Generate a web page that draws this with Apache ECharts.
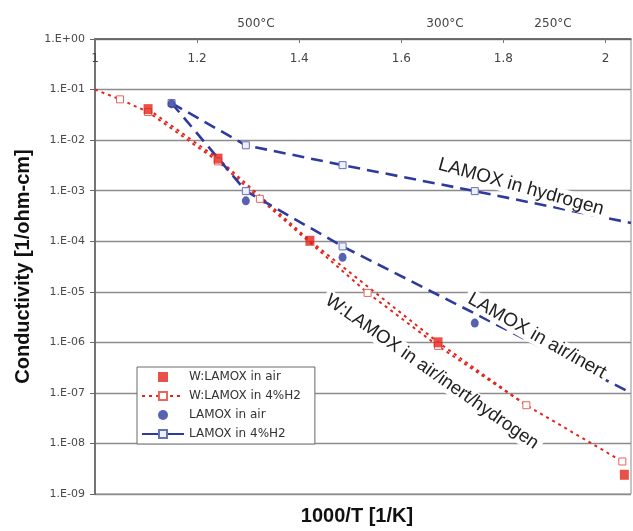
<!DOCTYPE html>
<html>
<head>
<meta charset="utf-8">
<script src="https://cdn.jsdelivr.net/npm/echarts@6/dist/echarts.min.js"></script>
<style>
  html, body { margin: 0; padding: 0; background: #fff; }
  #main { width: 633px; height: 531px; }
</style>
</head>
<body>
<div id="main"></div>
<script>
// W:LAMOX in air (filled squares)
const wAirX = [1.104, 1.241, 1.421, 1.672, 2.037];
const wAirY = [0.041, 0.0043, 0.000102, 0.0000010, 2.4e-9];
// W:LAMOX in 4%H2 (open squares), line starts at 1000/T = 1
const wH2X = [1.0, 1.049, 1.104, 1.241, 1.323, 1.534, 1.672, 1.845, 2.033];
const wH2Y = [0.1, 0.064, 0.036, 0.0038, 0.00069, 9.5e-6, 8.5e-7, 5.7e-8, 4.4e-9];
// dotted guide through the W:LAMOX in air points
const wGuideX = [1.104, 1.241, 1.421, 1.672, 1.845];
const wGuideY = [0.041, 0.0043, 0.000102, 0.0000010, 5.7e-8];
// LAMOX in air (filled circles)
const lAirX = [1.15, 1.2955, 1.485, 1.744];
const lAirY = [0.052, 0.00063, 0.000048, 2.4e-6];
// LAMOX in 4%H2 - hydrogen branch, extended to the right edge
const lH2X = [1.15, 1.2955, 1.485, 1.744, 2.05];
const lH2Y = [0.054, 0.0079, 0.0032, 0.00098, 0.00023];
// LAMOX air/inert branch
const lInertX = [1.15, 1.2955, 1.485, 2.05];
const lInertY = [0.054, 0.00098, 0.000079, 1.0e-7];

const yTickLabels = ["1.E+00", "1.E-01", "1.E-02", "1.E-03", "1.E-04",
  "1.E-05", "1.E-06", "1.E-07", "1.E-08", "1.E-09"];
const tempLabels = ["500°C", "300°C", "250°C"];
const notes = ["LAMOX in hydrogen", "LAMOX in air/inert", "W:LAMOX in air/inert/hydrogen"];

const RED = "#e2261c";
const BLUE = "#2f3b9c";
const SQUARE = "path://M0 0H10V10H0Z";

function zip(xs, ys) {
  return xs.map(function (x, i) { return [x, ys[i]]; });
}
// hide the marker on the points listed
function noMark(pts, idx) {
  return pts.map(function (p, i) {
    return idx.indexOf(i) >= 0 ? { value: p, symbol: "none" } : p;
  });
}

var myChart = echarts.init(document.getElementById("main"));

var option = {
  animation: false,
  grid: {
    left: 95, top: 39, right: 2, bottom: 31,
    show: true, borderColor: "#8c8c8c", borderWidth: 1
  },
  legend: {
    orient: "vertical",
    left: 137, top: 367,
    itemWidth: 42, itemHeight: 10, itemGap: 7,
    padding: [4, 14, 4, 4],
    borderColor: "#6a6a6a", borderWidth: 1,
    backgroundColor: "#fff",
    textStyle: { fontFamily: "DejaVu Sans", fontSize: 12, color: "#333" },
    data: [
      { name: "W:LAMOX in air", icon: SQUARE },
      { name: "W:LAMOX in 4%H2" },
      { name: "LAMOX in air" },
      { name: "LAMOX in 4%H2", lineStyle: { type: "solid" } }
    ]
  },
  xAxis: [
    {
      type: "value", position: "top", min: 1, max: 2.05, interval: 0.2,
      axisLine: { lineStyle: { color: "#5a5a5a", width: 1.5 } },
      axisTick: { inside: true, length: 4, lineStyle: { color: "#777" } },
      axisLabel: {
        inside: true, margin: 14, showMaxLabel: false,
        fontFamily: "DejaVu Sans", fontSize: 12, color: "#444",
        formatter: function (v) { return v > 2.001 ? "" : String(+v.toFixed(1)); }
      },
      splitLine: { show: false }
    },
    {
      type: "value", position: "bottom", min: 1, max: 2.05,
      axisLine: { show: false }, axisTick: { show: false },
      axisLabel: { show: false }, splitLine: { show: false },
      name: "1000/T [1/K]", nameLocation: "middle", nameGap: 12,
      nameTextStyle: {
        fontFamily: "Liberation Sans", fontWeight: "bold", fontSize: 20,
        color: "#111", padding: [0, 12, 0, 0]
      }
    }
  ],
  yAxis: {
    type: "log", logBase: 10, min: 1e-9, max: 1,
    axisLine: { show: true, lineStyle: { color: "#5a5a5a", width: 1.5 } },
    axisTick: { show: true, length: 5, lineStyle: { color: "#666" } },
    axisLabel: {
      margin: 10, fontFamily: "DejaVu Sans", fontSize: 11, color: "#4a4a4a",
      formatter: function (v) { return yTickLabels[Math.round(-Math.log10(v))]; }
    },
    splitLine: { lineStyle: { color: "#8c8c8c", width: 1.3 } },
    name: "Conductivity [1/ohm-cm]", nameLocation: "middle", nameGap: 62,
    nameTextStyle: {
      fontFamily: "Liberation Sans", fontWeight: "bold", fontSize: 20, color: "#111"
    }
  },
  series: [
    {
      name: "guide", type: "line", symbol: "none", z: 2,
      data: zip(wGuideX, wGuideY),
      lineStyle: { color: RED, width: 2, type: [3, 4] }
    },
    {
      name: "W:LAMOX in 4%H2", type: "line", symbol: "rect", symbolSize: 7, z: 3,
      data: noMark(zip(wH2X, wH2Y), [0]),
      itemStyle: { color: "#fff", borderColor: "#e8675e", borderWidth: 1 },
      lineStyle: { color: RED, width: 2, type: [3, 4] }
    },
    {
      name: "inert", type: "line", symbol: "rect", symbolSize: 7, z: 3,
      data: noMark(zip(lInertX, lInertY), [0, 3]),
      itemStyle: { color: "#eef0fa", borderColor: "#6570bb", borderWidth: 1 },
      lineStyle: { color: BLUE, width: 2.6, type: [12, 7] }
    },
    {
      name: "LAMOX in 4%H2", type: "line", symbol: "rect", symbolSize: 7, z: 3,
      data: noMark(zip(lH2X, lH2Y), [4]),
      itemStyle: { color: "#eef0fa", borderColor: "#6570bb", borderWidth: 1 },
      lineStyle: { color: BLUE, width: 2.6, type: [12, 7] }
    },
    {
      name: "W:LAMOX in air", type: "scatter", symbol: "rect", symbolSize: [9, 10], z: 5,
      data: zip(wAirX, wAirY),
      itemStyle: { color: RED }
    },
    {
      name: "LAMOX in air", type: "scatter", symbol: "circle", symbolSize: [8, 9], z: 5,
      data: zip(lAirX, lAirY),
      itemStyle: { color: BLUE }
    }
  ],
  graphic: [
    { type: "text", x: 256, y: 24, style: { text: tempLabels[0], font: "12px 'DejaVu Sans'", fill: "#444", align: "center", verticalAlign: "middle" } },
    { type: "text", x: 445, y: 24, style: { text: tempLabels[1], font: "12px 'DejaVu Sans'", fill: "#444", align: "center", verticalAlign: "middle" } },
    { type: "text", x: 553, y: 24, style: { text: tempLabels[2], font: "12px 'DejaVu Sans'", fill: "#444", align: "center", verticalAlign: "middle" } },
    {
      type: "text", x: 521, y: 187, rotation: -15.5 * Math.PI / 180, z: 10,
      style: { text: notes[0], font: "19px 'Liberation Sans'", fill: "#222", align: "center", verticalAlign: "middle", backgroundColor: "#fff", padding: [0, 4] }
    },
    {
      type: "text", x: 537, y: 336, rotation: -29.5 * Math.PI / 180, z: 10,
      style: { text: notes[1], font: "19px 'Liberation Sans'", fill: "#222", align: "center", verticalAlign: "middle", backgroundColor: "#fff", padding: [0, 4] }
    },
    {
      type: "text", x: 432, y: 372, rotation: -35 * Math.PI / 180, z: 10,
      style: { text: notes[2], font: "18.5px 'Liberation Sans'", fill: "#222", align: "center", verticalAlign: "middle", backgroundColor: "#fff", padding: [0, 4] }
    }
  ]
};

myChart.setOption(option);
</script>
</body>
</html>
